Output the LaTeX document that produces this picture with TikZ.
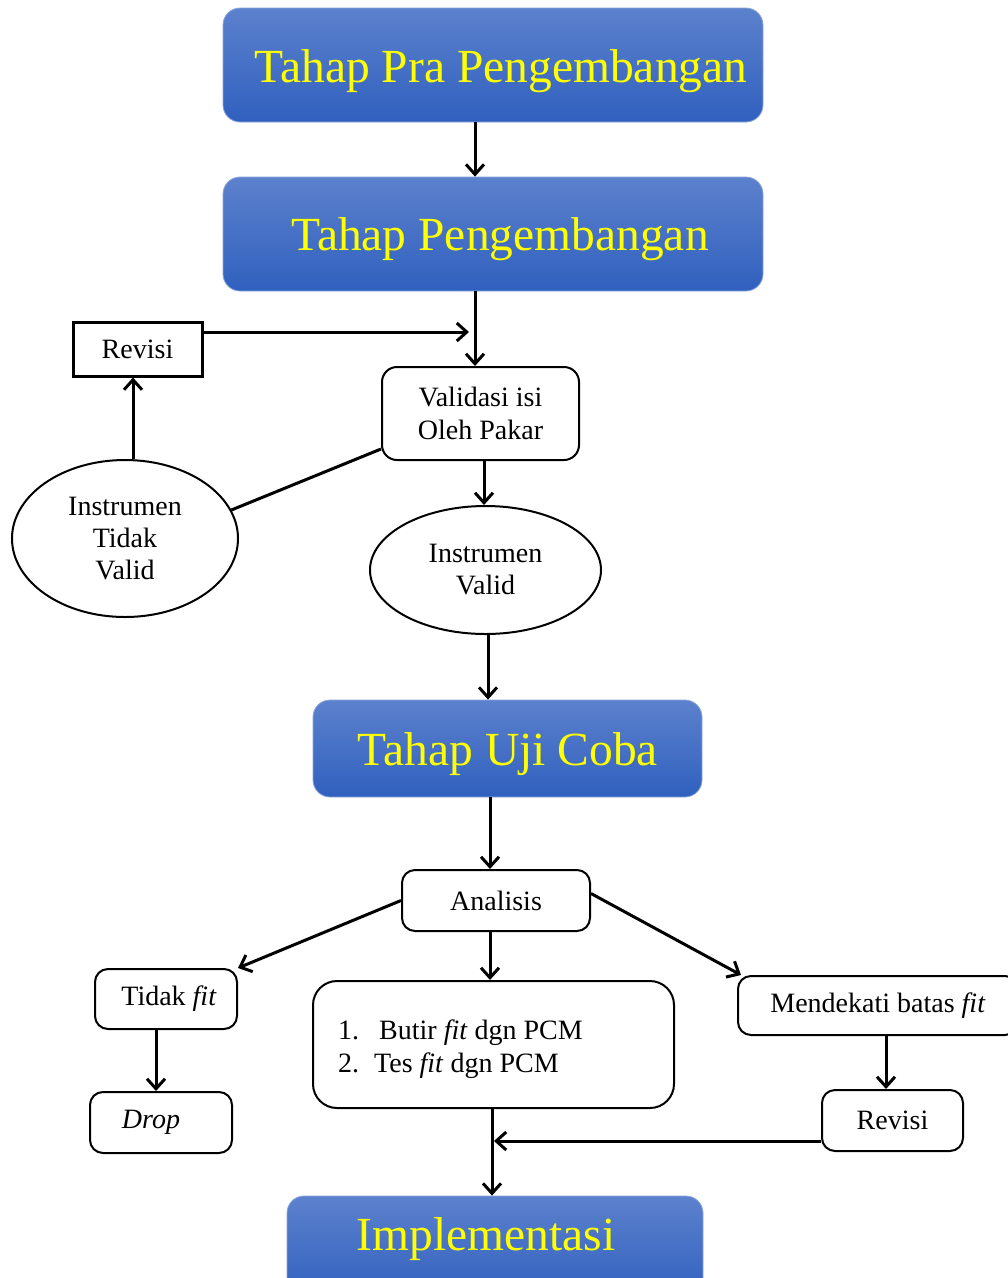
\documentclass[tikz,border=0pt]{standalone}
\usepackage{fontspec}
\setmainfont{Liberation Serif}
\usetikzlibrary{arrows.meta,shapes.geometric}
\definecolor{bluetop}{HTML}{5C81CD}
\definecolor{bluebot}{HTML}{3060BE}
\definecolor{ylw}{HTML}{FFFF00}
\begin{document}
\begin{tikzpicture}[x=1pt,y=-1pt,
  stage/.style={rounded corners=17pt, top color=bluetop, bottom color=bluebot, draw=bluetop!70!white, line width=0.8pt, inner sep=0pt},
  stagetxt/.style={text=ylw, font=\fontsize{47.5}{50}\selectfont, inner sep=0pt},
  rbox/.style={rounded corners=13pt, draw, line width=2pt, fill=white, font=\fontsize{28}{33}\selectfont, inner sep=0pt, align=center},
  sqbox/.style={draw, line width=3pt, fill=white, font=\fontsize{28}{33}\selectfont, inner sep=0pt, align=center},
  oval/.style={ellipse, draw, line width=2pt, fill=white, font=\fontsize{28}{32}\selectfont, inner sep=0pt, align=center},
  arr/.style={line width=3pt, -{Straight Barb[length=10pt,width=18pt]}},
  ln/.style={line width=3pt}
]
\useasboundingbox (0,0) rectangle (1008,1278);
\clip (0,0) rectangle (1008,1278);
\fill[white] (0,0) rectangle (1008,1278);

% stage boxes
\node[stage, minimum width=540pt, minimum height=114pt] (b1) at (493,65) {};
\node[stagetxt] (b1t) at (501,71) {Tahap Pra Pengembangan};
\node[stage, minimum width=540pt, minimum height=114pt] (b2) at (493,234) {};
\node[stagetxt] (b2t) at (500,239) {Tahap Pengembangan};
\node[stage, minimum width=389pt, minimum height=97pt] (uji) at (507.5,748.5) {};
\node[stagetxt] (ujit) at (508,754) {Tahap Uji Coba};
\node[stage, minimum width=416pt, minimum height=104pt] (impl) at (495,1248) {};
\node[stagetxt] (implt) at (486,1239) {Implementasi};

% process boxes
\node[sqbox, minimum width=129pt, minimum height=54pt] (rev1) at (137.5,349) {Revisi};
\node[rbox, minimum width=197pt, minimum height=93pt, rounded corners=15pt] (val) at (480.5,413.5) {Validasi isi\\Oleh Pakar};
\node[oval, minimum width=226pt, minimum height=157pt] (itv) at (125,538.5) {Instrumen\\Tidak\\Valid};
\node[oval, minimum width=231pt, minimum height=128pt] (iv) at (485.5,570) {Instrumen\\Valid};
\node[rbox, minimum width=188pt, minimum height=61pt] (ana) at (496,900.5) {Analisis};
\node[rbox, minimum width=142pt, minimum height=60pt] (tf) at (166,999) {\hspace{6pt}Tidak \textit{fit}};
\node[rbox, minimum width=361pt, minimum height=127pt, rounded corners=24pt] (big) at (493.5,1044.5) {};
\node[font=\fontsize{28}{33}\selectfont, align=left, anchor=west, inner sep=0pt] (bigtxt) at (338,1049)
  {1.\hspace{20pt}Butir \textit{fit} dgn PCM\\2.\hspace{15pt}Tes \textit{fit} dgn PCM};
\node[rbox, minimum width=142pt, minimum height=61pt] (drop) at (161,1122.5) {\hspace{-20pt}\textit{Drop}};
\node[rbox, minimum width=280pt, minimum height=59pt] (mbf) at (878,1005.5) {Mendekati batas \textit{fit}};
\node[rbox, minimum width=141pt, minimum height=61pt] (rev2) at (892.5,1120.5) {Revisi};

\coordinate (j1) at (469,332);
\coordinate (j2) at (494,1141);

% connectors
\draw[arr] ([xshift=-18pt]b1.south) -- ([xshift=-18pt]b2.north);
\draw[arr] ([xshift=-18pt]b2.south) -- ([xshift=-18pt]b2.south |- val.north);
\draw[arr] ([yshift=17pt]rev1.east) -- (j1);
\draw[arr] ([xshift=3.5pt]val.south) -- ([xshift=3.5pt]val.south |- iv.north);
\draw[ln] ([yshift=12pt]val.south west) -- (itv.15);
\draw[arr] ([xshift=8pt]itv.north) -- ([xshift=8pt]itv.north |- rev1.south);
\draw[arr] ([xshift=2.5pt]iv.south) -- ([xshift=2.5pt]iv.south |- uji.north);
\draw[arr] ([xshift=-6pt]ana.north |- uji.south) -- ([xshift=-6pt]ana.north);
\draw[arr] (ana.west) -- (tf.north east);
\draw[arr] ([yshift=7pt]ana.east) -- ([xshift=4pt]mbf.north west);
\draw[arr] ([xshift=-6pt]ana.south) -- ([xshift=-6pt]ana.south |- big.north);
\draw[arr] ([xshift=-10pt]tf.south) -- ([xshift=-10pt]tf.south |- drop.north);
\draw[arr] ([xshift=8pt]mbf.south) -- ([xshift=8pt]mbf.south |- rev2.north);
\draw[arr] ([yshift=-20.5pt]rev2.west) -- (j2);
\draw[arr] ([xshift=-1.5pt]big.south) -- ([xshift=-1.5pt]big.south |- impl.north);
\end{tikzpicture}
\end{document}
